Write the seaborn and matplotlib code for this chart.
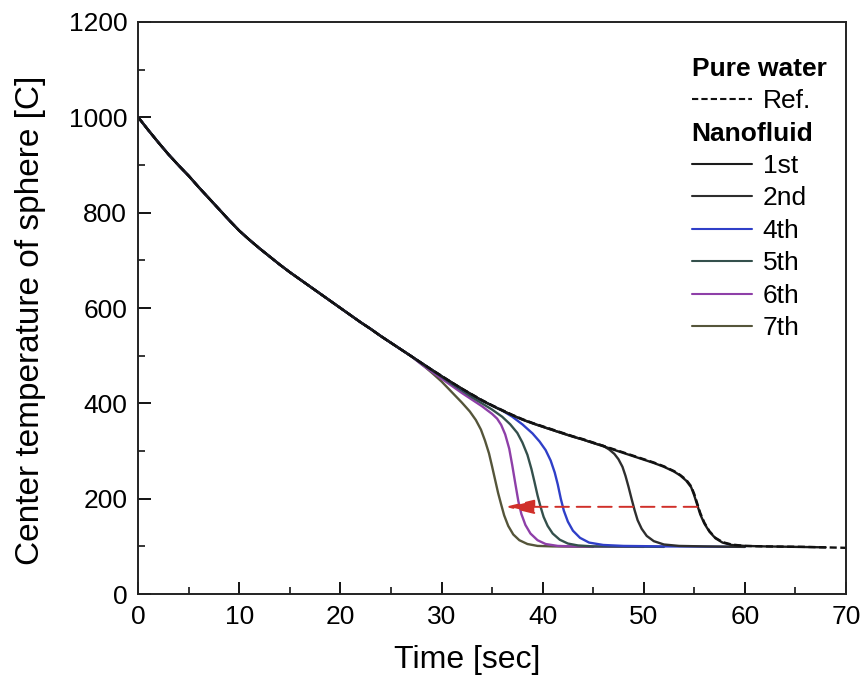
import matplotlib
matplotlib.use("Agg")
import matplotlib.pyplot as plt
import seaborn as sns
import pandas as pd

# ==============================
# Data
# ==============================
# shared early cooling branch, same for every run
t_common = [0, 1, 2, 3, 4, 5, 6, 7, 8, 9, 10, 11, 12, 13, 14, 15, 16, 17, 18,
            19, 20, 21, 22, 23, 24, 25, 26, 27]
T_common = [1000, 973, 947, 922, 899, 877, 853, 830, 807, 784, 762, 743, 725,
            708, 691, 675, 660, 645, 630, 615, 600, 585, 570, 556, 541, 527,
            513, 499]

t_ref = [28, 29, 30, 31, 32, 33, 34, 35, 36, 37, 38, 39, 40, 41, 42, 43, 44, 45,
         46, 47, 48, 49, 50, 51, 52, 53, 53.6, 54.2, 54.7, 55.0, 55.3, 55.6,
         56.0, 56.5, 57.1, 57.8, 58.7, 60, 62, 66, 70]
T_ref = [485, 471, 458, 444, 431, 419, 407, 396, 386, 376, 367, 359, 352, 345,
         338, 331, 325, 318, 311, 304, 297, 290, 283, 276, 268, 258, 250, 240,
         226, 210, 190, 170, 150, 132, 118, 109, 104, 101, 100, 99, 97]

t_1st = [28, 29, 30, 31, 32, 33, 34, 35, 36, 37, 38, 39, 40, 41, 42, 43, 44, 45,
         46, 47, 48, 49, 50, 51, 52, 53, 53.6, 54.2, 54.7, 55.0, 55.3, 55.6,
         56.0, 56.5, 57.1, 57.8, 58.7, 60, 62, 68]
T_1st = [485, 471, 457, 444, 431, 418, 406, 395, 385, 375, 366, 358, 351, 344,
         337, 330, 324, 317, 310, 303, 296, 289, 282, 275, 267, 257, 249, 238,
         224, 207, 187, 167, 148, 131, 117, 108, 103, 101, 100, 98]

t_2nd = [28, 30, 32, 34, 36, 38, 40, 42, 44, 45, 46, 46.6, 47.1, 47.5, 47.9,
         48.2, 48.5, 48.8, 49.1, 49.4, 49.8, 50.3, 51, 52, 53.5, 56, 60]
T_2nd = [485, 457, 431, 406, 385, 366, 351, 337, 324, 317, 311, 303, 294, 283,
         267, 248, 225, 200, 176, 155, 137, 122, 111, 104, 101, 100, 99]

t_4th = [28, 30, 32, 34, 36, 37, 38, 39, 39.7, 40.3, 40.8, 41.2, 41.5, 41.8,
         42.1, 42.5, 43, 43.7, 44.6, 46, 48, 52, 60]
T_4th = [485, 457, 430, 406, 385, 372, 356, 337, 320, 302, 280, 255, 230, 200,
         175, 152, 133, 118, 108, 103, 101, 100, 99]

t_5th = [28, 29, 30, 31, 32, 33, 34, 35, 36, 36.8, 37.5, 38.0, 38.5, 38.9, 39.2,
         39.5, 39.8, 40.1, 40.5, 41, 41.7, 42.5, 43.5, 45, 52]
T_5th = [484, 470, 456, 441, 427, 413, 400, 387, 372, 356, 338, 318, 292, 262,
         235, 207, 183, 162, 143, 127, 114, 106, 102, 100, 99]

t_6th = [28, 29, 30, 31, 32, 33, 34, 35, 35.5, 35.9, 36.3, 36.7, 37.0, 37.3,
         37.6, 37.9, 38.3, 38.8, 39.5, 40.3, 41.5, 43, 50]
T_6th = [482, 467, 452, 437, 422, 408, 394, 378, 368, 355, 335, 305, 270, 232,
         195, 168, 145, 127, 113, 105, 101, 100, 99]

t_7th = [28, 29, 30, 31, 32, 32.8, 33.4, 33.9, 34.3, 34.7, 35.0, 35.3, 35.6,
         35.9, 36.2, 36.6, 37.1, 37.7, 38.5, 39.5, 41, 45]
T_7th = [483, 465, 446, 424, 402, 383, 365, 345, 322, 295, 268, 240, 212, 188,
         165, 143, 125, 113, 105, 101, 100, 99]

runs = ['7th', '6th', '5th', '4th', '2nd', '1st', 'Ref.']
run_t = {'Ref.': t_ref, '1st': t_1st, '2nd': t_2nd, '4th': t_4th,
         '5th': t_5th, '6th': t_6th, '7th': t_7th}
run_T = {'Ref.': T_ref, '1st': T_1st, '2nd': T_2nd, '4th': T_4th,
         '5th': T_5th, '6th': T_6th, '7th': T_7th}

# arrow showing the shift of the quench point
arrow_T = 183
arrow_from = 55.3
arrow_to = 36.3

colors = {'Ref.': '#111111', '1st': '#1c1c1c', '2nd': '#2e2e2e', '4th': '#2f3fc8',
          '5th': '#34504c', '6th': '#8e3fa8', '7th': '#55553a'}

frames = []
for r in runs:
    frames.append(pd.DataFrame({'time': t_common + run_t[r],
                                'temp': T_common + run_T[r],
                                'run': r}))
df = pd.concat(frames, ignore_index=True)

# ==============================
# Plot
# ==============================
sns.set_style('ticks', {'text.color': 'black', 'axes.labelcolor': 'black',
                        'xtick.color': 'black', 'ytick.color': 'black'})
plt.rcParams['font.family'] = ['Liberation Sans', 'DejaVu Sans']

fig = plt.figure(figsize=(8.64, 6.86), dpi=100)
ax = fig.add_axes([0.160, 0.134, 0.819, 0.834])

sns.lineplot(data=df, x='time', y='temp', hue='run', style='run',
             palette=colors, hue_order=runs, style_order=runs,
             dashes={r: ((3, 1.5) if r == 'Ref.' else '') for r in runs},
             sort=False, estimator=None, lw=1.7, legend=False, ax=ax)

ax.annotate('', xy=(arrow_to, arrow_T), xytext=(arrow_from, arrow_T),
            arrowprops=dict(arrowstyle='-|>,head_length=0.9,head_width=0.22',
                            color='#d0302a', lw=1.4, linestyle=(0, (7, 4)),
                            mutation_scale=20, shrinkA=0, shrinkB=0))

ax.set_xlim(0, 70)
ax.set_ylim(0, 1200)
ax.set_xticks(range(0, 71, 10))
ax.set_xticks(range(5, 70, 10), minor=True)
ax.set_yticks(range(0, 1201, 200))
ax.set_yticks(range(100, 1200, 200), minor=True)
ax.tick_params(which='major', direction='in', length=9, width=1.3,
               labelsize=19, pad=8, top=False, right=False)
ax.tick_params(which='minor', direction='in', length=5, width=1.1,
               top=False, right=False)
for s in ax.spines.values():
    s.set_visible(True)
    s.set_linewidth(1.4)
    s.set_color('#222222')

ax.set_xlabel('Time [sec]', fontsize=23)
ax.set_ylabel('Center temperature of sphere [C]', fontsize=24)
ax.xaxis.set_label_coords(0.465, -0.089)
ax.yaxis.set_label_coords(-0.131, 0.479)

# legend with bold group headers
blank = plt.Line2D([], [], color='none')
def h(r):
    return plt.Line2D([], [], color=colors[r], lw=1.5,
                      linestyle=(0, (3, 1.5)) if r == 'Ref.' else '-')
legend_labels = ['Pure water', 'Ref.', 'Nanofluid', '1st', '2nd', '4th', '5th', '6th', '7th']
headers = {'Pure water', 'Nanofluid'}
handles = [blank if l in headers else h(l) for l in legend_labels]
leg = ax.legend(handles, legend_labels, loc='upper right',
                bbox_to_anchor=(0.995, 0.967), frameon=False, fontsize=19,
                handlelength=2.3, handletextpad=0.4, labelspacing=0.32,
                borderaxespad=0.2)
for txt in leg.get_texts():
    if txt.get_text() in headers:
        txt.set_fontweight('bold')
for col in leg._legend_handle_box.get_children():
    for hp in col.get_children():
        area, tarea = hp.get_children()
        if tarea.get_children()[0].get_text() in headers:
            area.set_width(0)
            hp.sep = 0

fig.savefig('out.png', dpi=100)
